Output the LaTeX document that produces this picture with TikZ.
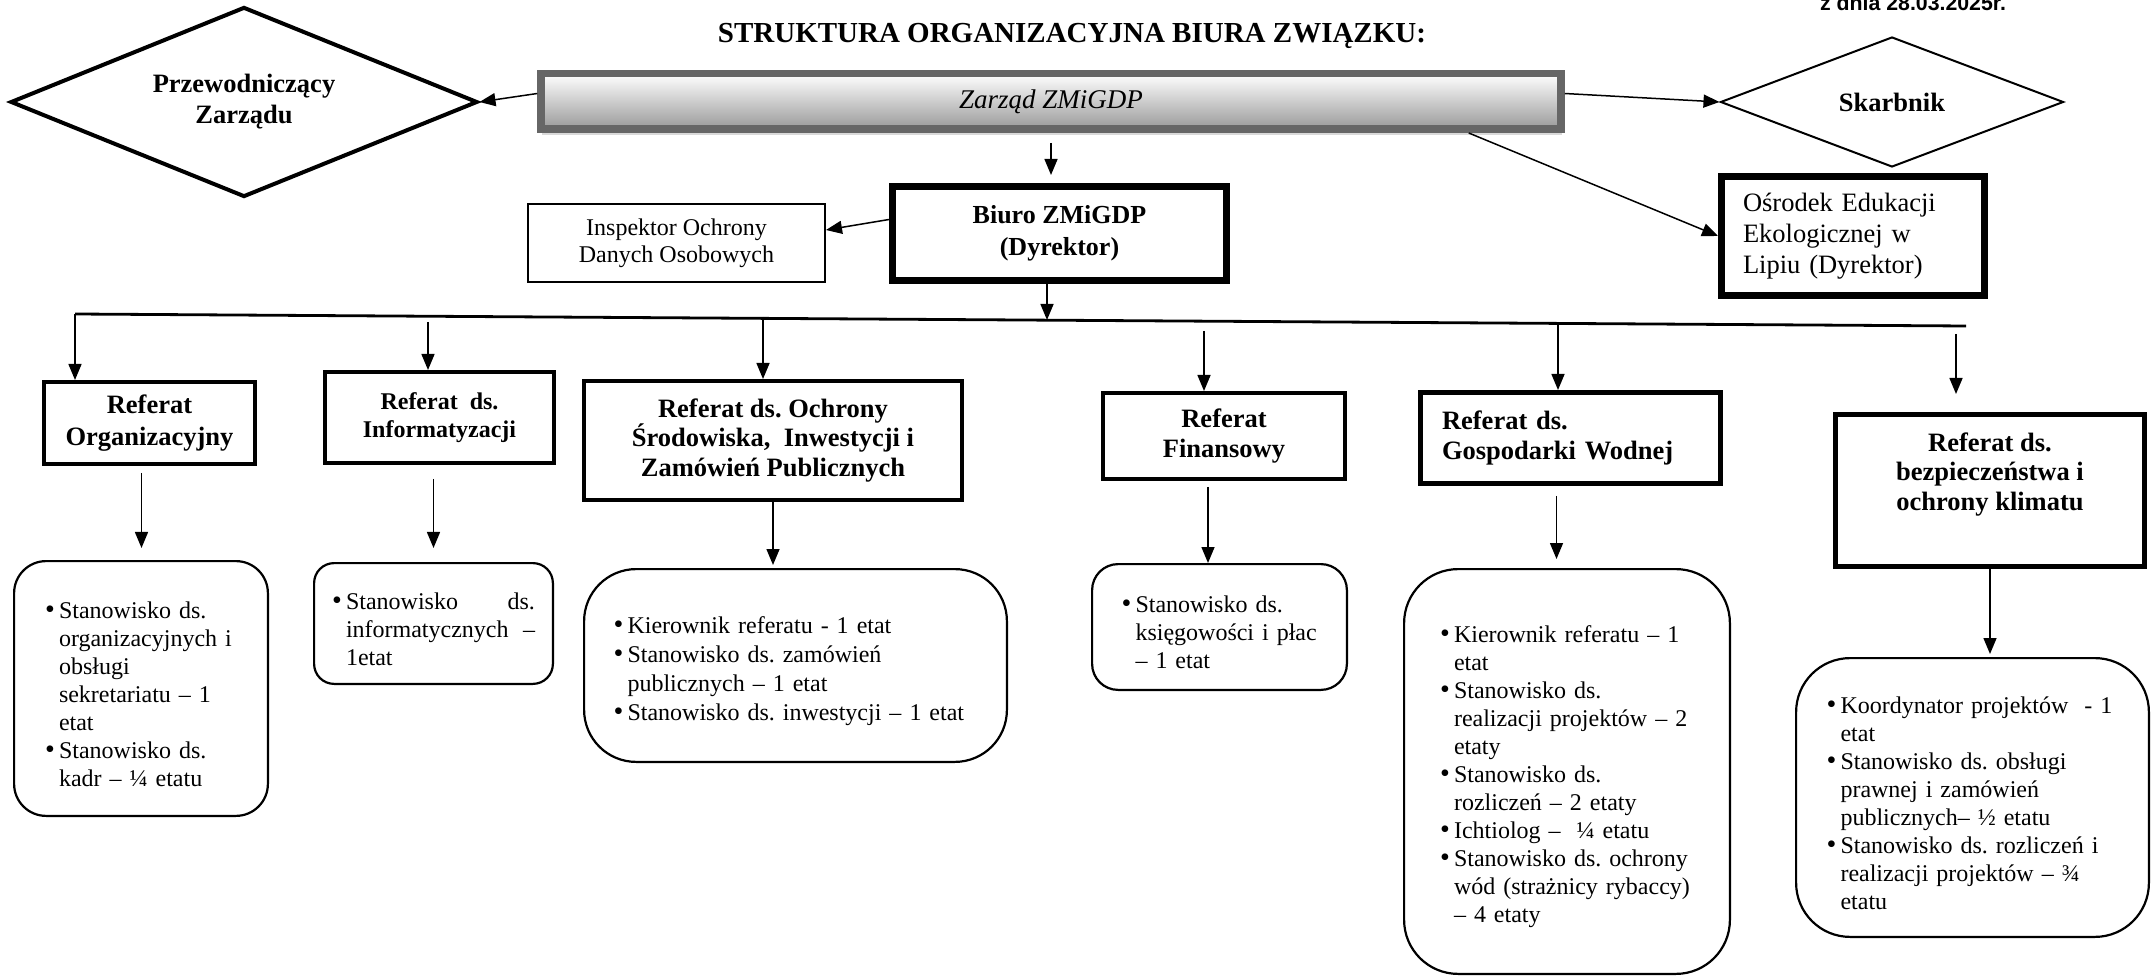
\documentclass[tikz,border=0pt]{standalone}
\usepackage{fontspec}
\setmainfont{Liberation Serif}
\newfontfamily\datefont{Liberation Sans}
\usetikzlibrary{shapes.geometric,arrows.meta,shadows}

\tolerance=10000
\hyphenpenalty=10000
\frenchspacing

\newcommand{\poz}[1]{\par\noindent\hangindent=7pt\hangafter=1\makebox[7pt][l]{{\fontsize{14}{14}\selectfont\textbullet}}#1\par}

\tikzset{
    ref/.style={draw, line width=2.2pt, inner sep=0pt, align=center,
        font=\fontsize{13.25}{14.75}\selectfont\bfseries},
    lista/.style={draw, line width=1.1pt, rounded corners=#1, inner sep=0pt,
        align=left, font=\fontsize{12}{14}\selectfont},
    lista/.default=12pt,
    romb/.style={diamond, draw, inner sep=0pt, align=center,
        font=\fontsize{13.25}{15.5}\selectfont\bfseries},
    arr/.style={line width=0.75pt, -{Triangle[length=8pt,width=6.5pt]}}
}

\begin{document}
\begin{tikzpicture}[x=0.5pt, y=-0.5pt]

    \useasboundingbox (0,0) rectangle (2153,978);

    \node[anchor=base, font=\datefont\fontsize{10.65}{12}\selectfont\bfseries] (data) at (1913,11) {z dnia 28.03.2025r.};

    \node[anchor=base, font=\fontsize{14.5}{16}\selectfont\bfseries] (tytul) at (1072,43) {STRUKTURA ORGANIZACYJNA BIURA ZWIĄZKU:};

    \node[draw=black!60, line width=3.75pt, top color=white, bottom color=black!40,
        minimum width=510pt, minimum height=27.75pt, inner sep=0pt,
        font=\fontsize{13.5}{15}\selectfont\itshape,
        drop shadow={opacity=0.3, shadow xshift=0.5pt, shadow yshift=-3pt}] (zarzad) at (1051,101.5) {Zarząd ZMiGDP};

    \node[romb, line width=2pt, minimum width=233.5pt, minimum height=95pt, aspect=2.46] (przew) at (244,102) {Przewodniczący\\Zarządu};

    \node[romb, line width=1pt, minimum width=171.5pt, minimum height=65pt, aspect=2.64] (skarb) at (1892,102) {Skarbnik};

    \node[draw, line width=3.3pt, minimum width=131.7pt, minimum height=59.7pt, inner sep=0pt,
        text width=110pt, align=left, font=\fontsize{13.25}{15.5}\selectfont] (osrodek) at (1853,236) {Ośrodek Edukacji\\Ekologicznej w\\Lipiu (Dyrektor)};

    \node[ref, line width=3.5pt, minimum width=167pt, minimum height=47pt,
        font=\fontsize{13}{16}\selectfont\bfseries] (biuro) at (1059.5,233.5) {Biuro ZMiGDP\\(Dyrektor)};

    \node[draw, line width=1pt, minimum width=148.5pt, minimum height=39pt, inner sep=0pt,
        align=center, font=\fontsize{12}{13.5}\selectfont] (insp) at (676.5,243) {Inspektor Ochrony\\Danych Osobowych};

    \draw[arr] ([yshift=4pt]zarzad.west) -- (przew.east);

    \draw[arr] ([yshift=4pt]zarzad.east) -- (skarb.west);

    \draw[arr] ([xshift=-48pt]zarzad.south east) -- (osrodek.west);

    \draw[arr, shorten <=5pt, shorten >=4pt] (zarzad.south) -- (zarzad.south |- biuro.north);

    \draw[arr] ([yshift=7pt]biuro.west) -- ([yshift=6.5pt]insp.east);

    \coordinate (busL) at (75,314);
    \coordinate (busR) at (1966,326);
    \coordinate (busB) at (1047,320);

    \draw[line width=1.4pt] (busL) -- (busR);

    \draw[arr] (biuro.south -| busB) -- (busB);

    \node[ref, minimum width=105.3pt, minimum height=40.8pt,
        font=\fontsize{13.25}{16}\selectfont\bfseries] (org) at (149.5,423) {Referat\\Organizacyjny};

    \node[ref, minimum width=114.3pt, minimum height=45.3pt,
        font=\fontsize{12}{14}\selectfont\bfseries] (inf) at (439.5,417.5) {Referat~ ds.\\Informatyzacji};

    \node[ref, minimum width=188.8pt, minimum height=59.3pt] (och) at (773,440.5) {Referat ds. Ochrony\\Środowiska,~ Inwestycji i\\Zamówień Publicznych};

    \node[ref, minimum width=120.8pt, minimum height=42.8pt,
        font=\fontsize{13.25}{15}\selectfont\bfseries] (fin) at (1224,436) {Referat\\Finansowy};

    \node[ref, line width=2.3pt, minimum width=150.2pt, minimum height=45.7pt,
        text width=128.5pt, align=left,
        font=\fontsize{13.25}{15}\selectfont\bfseries] (gosp) at (1570.5,438) {Referat ds.\\Gospodarki Wodnej};

    \node[ref, line width=2.6pt, minimum width=154.4pt, minimum height=75.9pt] (bezp) at (1990,490.5) {Referat ds.\\bezpieczeństwa i\\ochrony klimatu\\\strut};

    \coordinate (b1) at (75,314);
    \coordinate (b2) at (428,322);
    \coordinate (b3) at (763,317);
    \coordinate (b4) at (1204,331);
    \coordinate (b5) at (1558,323);
    \coordinate (b6) at (1956,334);

    \draw[arr] (b1) -- (b1 |- org.north);

    \draw[arr] (b2) -- (b2 |- inf.north);

    \draw[arr] (b3) -- (b3 |- och.north);

    \draw[arr] (b4) -- (b4 |- fin.north);

    \draw[arr] (b5) -- (b5 |- gosp.north);

    \draw[arr, shorten >=9pt] (b6) -- (b6 |- bezp.north);

    \node[lista=16pt, minimum width=126.9pt, minimum height=127.4pt, text width=96pt] (orgl) at (141,688.5) {%
        \poz{Stanowisko ds.\newline organizacyjnych i\newline obsługi\newline sekretariatu – 1\newline etat}%
        \poz{Stanowisko ds.\newline kadr – ¼ etatu}};

    \node[lista=10pt, align=justify, minimum width=119.4pt, minimum height=60.4pt, text width=101.5pt] (infl) at (433.5,623.5) {%
        \poz{Stanowisko ds.\linebreak informatycznych –\linebreak 1etat}};

    \node[lista=26pt, minimum width=211.4pt, minimum height=96.4pt, text width=182pt,
        font=\fontsize{12}{14.5}\selectfont] (ochl) at (795.5,665.5) {%
        \poz{Kierownik referatu - 1 etat}%
        \poz{Stanowisko ds. zamówień\newline publicznych – 1 etat}%
        \poz{Stanowisko ds. inwestycji – 1 etat}};

    \node[lista=13pt, minimum width=127.4pt, minimum height=62.9pt, text width=98pt] (finl) at (1219.5,627) {%
        \poz{Stanowisko ds.\newline księgowości i płac\newline – 1 etat}};

    \node[lista=27pt, minimum width=162.9pt, minimum height=202.4pt, text width=127pt] (gospl) at (1567,771.5) {%
        \poz{Kierownik referatu – 1\newline etat}%
        \poz{Stanowisko ds.\newline realizacji projektów – 2\newline etaty}%
        \poz{Stanowisko ds.\newline rozliczeń – 2 etaty}%
        \poz{Ichtiolog –~ ¼ etatu}%
        \poz{Stanowisko ds. ochrony\newline wód (strażnicy rybaccy)\newline – 4 etaty}};

    \node[lista=27pt, minimum width=176.4pt, minimum height=139.4pt, text width=146pt] (bezpl) at (1972.5,797.5) {%
        \poz{Koordynator projektów~ - 1\newline etat}%
        \poz{Stanowisko ds. obsługi\newline prawnej i zamówień\newline publicznych– ½ etatu}%
        \poz{Stanowisko ds. rozliczeń i\newline realizacji projektów – ¾\newline etatu}};

    \draw[arr, shorten <=3.5pt, shorten >=6pt] ([xshift=-4pt]org.south) -- ([xshift=-4pt]org.south |- orgl.north);

    \draw[arr, shorten <=7pt, shorten >=7pt] (infl.north |- inf.south) -- (infl.north);

    \draw[arr, shorten >=1.5pt] (och.south) -- (och.south |- ochl.north);

    \draw[arr, shorten <=3pt] ([xshift=-8pt]fin.south) -- ([xshift=-8pt]fin.south |- finl.north);

    \draw[arr, shorten <=5pt, shorten >=4.5pt] ([xshift=-7pt]gosp.south) -- ([xshift=-7pt]gosp.south |- gospl.north);

    \draw[arr, shorten >=1.5pt] (bezp.south) -- (bezp.south |- bezpl.north);

\end{tikzpicture}
\end{document}
